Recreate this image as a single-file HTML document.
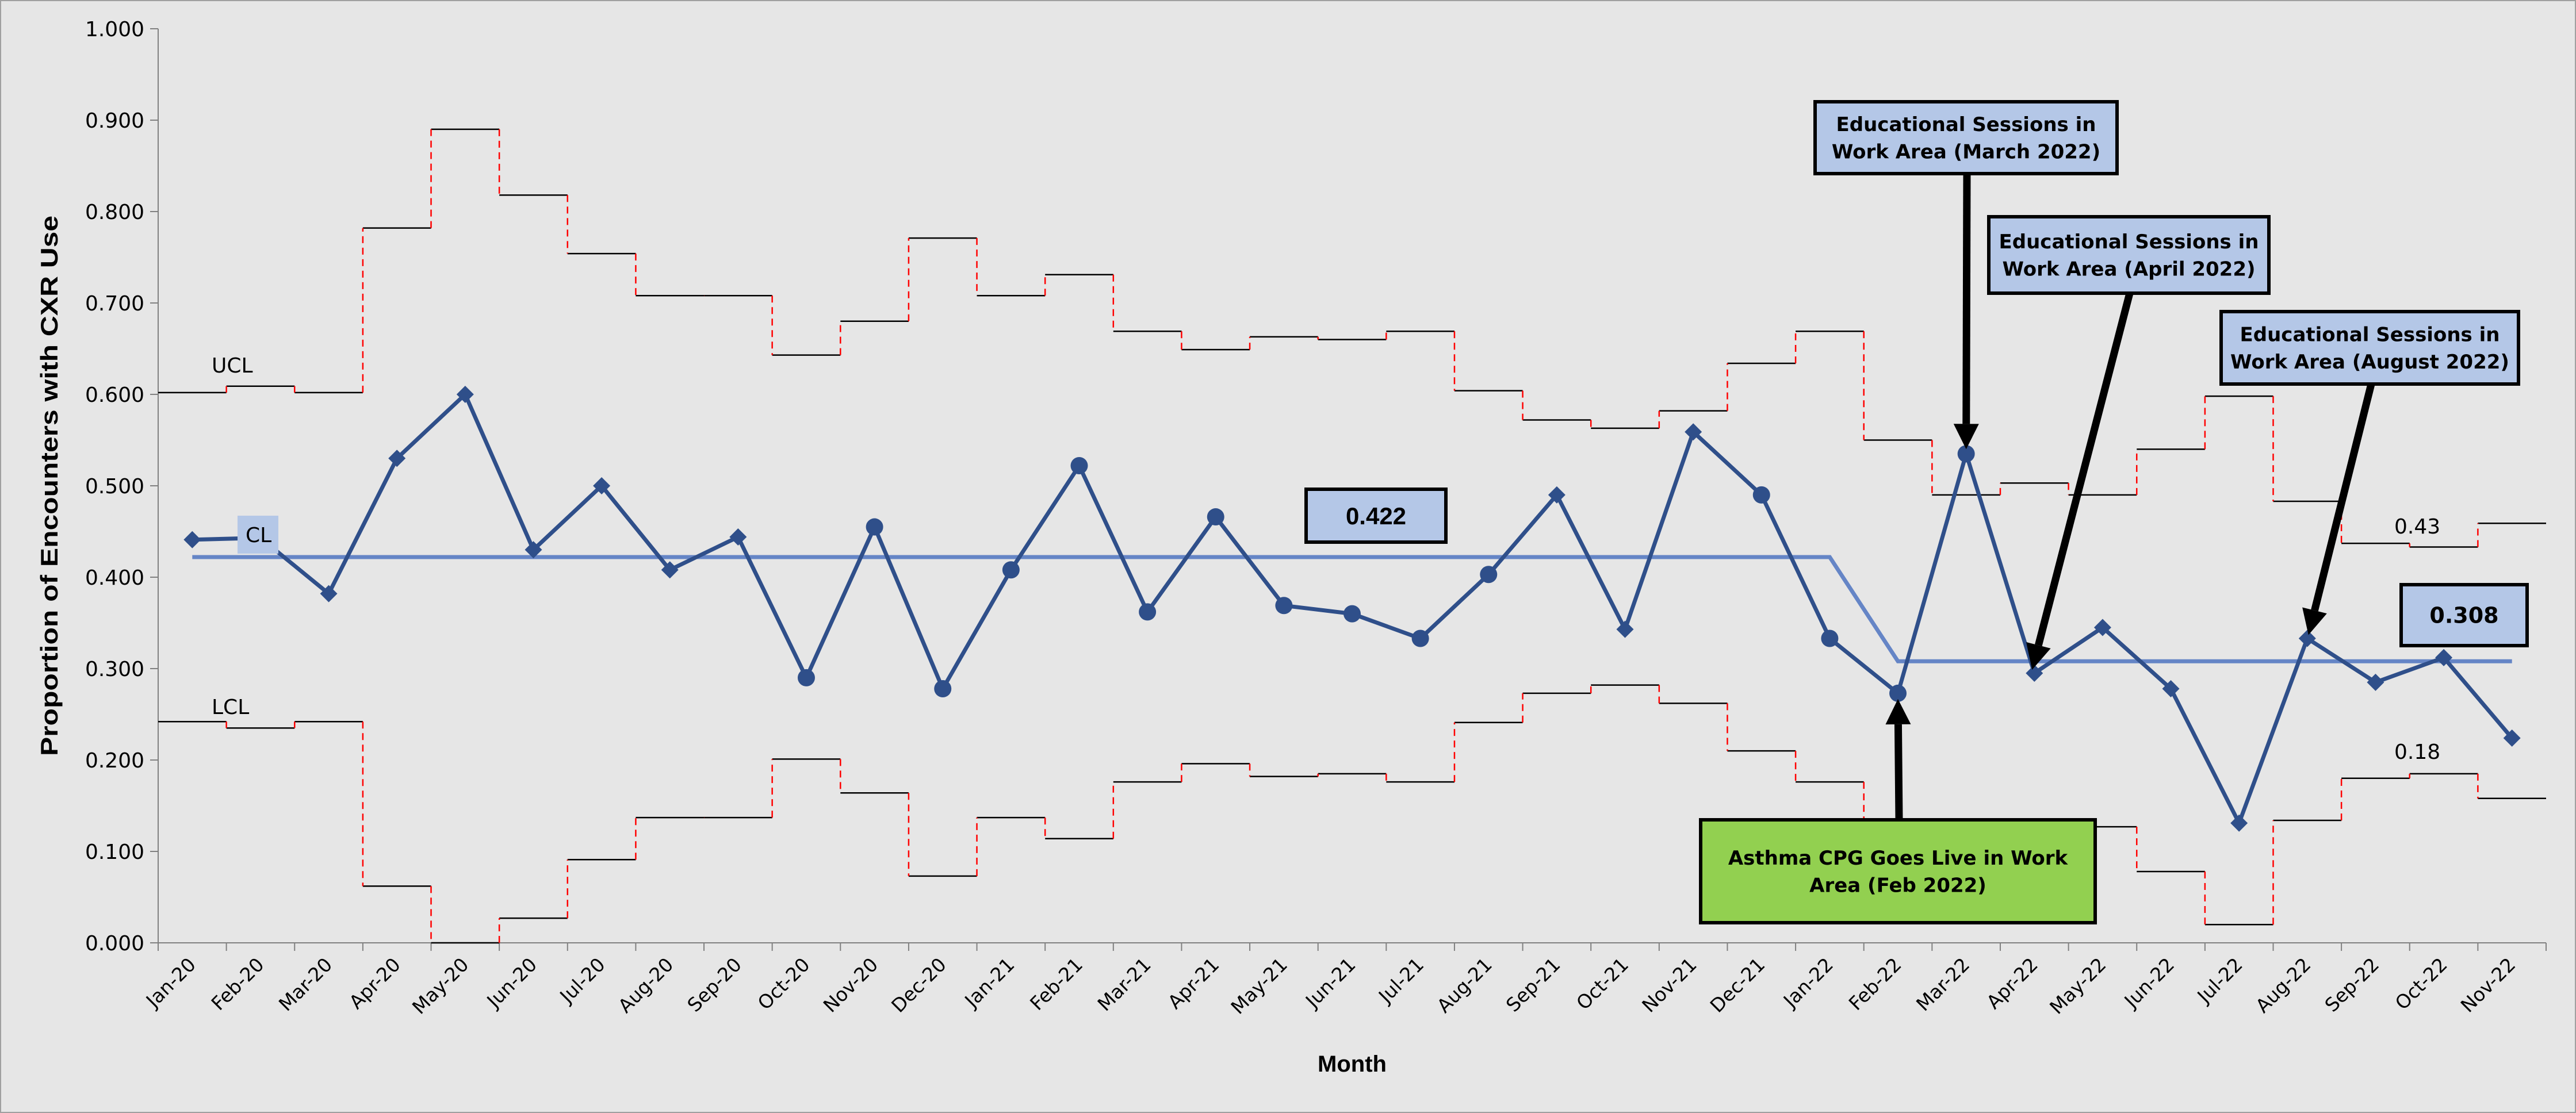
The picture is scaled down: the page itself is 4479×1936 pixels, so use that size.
<!DOCTYPE html>
<html><head><meta charset="utf-8"><style>
html,body{margin:0;padding:0;background:#e6e6e6}
svg{display:block}
</style></head><body>
<svg id="chart" width="4479" height="1936" viewBox="0 0 4479 1936" xmlns="http://www.w3.org/2000/svg">
<rect x="1" y="1" width="4477" height="1934" fill="#e6e6e6" stroke="#a0a0a0" stroke-width="2"/>
<g id="grid"></g>
<g id="limits"></g>
<g id="series"></g>
<g id="annot"></g>
</svg>
<script>
const months = ["Jan-20","Feb-20","Mar-20","Apr-20","May-20","Jun-20","Jul-20","Aug-20","Sep-20","Oct-20","Nov-20","Dec-20","Jan-21","Feb-21","Mar-21","Apr-21","May-21","Jun-21","Jul-21","Aug-21","Sep-21","Oct-21","Nov-21","Dec-21","Jan-22","Feb-22","Mar-22","Apr-22","May-22","Jun-22","Jul-22","Aug-22","Sep-22","Oct-22","Nov-22"];
const proportion = [0.441,0.443,0.382,0.530,0.600,0.430,0.500,0.408,0.444,0.290,0.455,0.278,0.408,0.522,0.362,0.466,0.369,0.360,0.333,0.403,0.490,0.343,0.559,0.490,0.333,0.273,0.535,0.295,0.345,0.278,0.131,0.333,0.285,0.312,0.224];
const markerType = ["d","d","d","d","d","d","d","d","d","c","c","c","c","c","c","c","c","c","c","c","d","d","d","c","c","c","c","d","d","d","d","d","d","d","d"];
const ucl = [0.602,0.609,0.602,0.782,0.890,0.818,0.754,0.708,0.708,0.643,0.680,0.771,0.708,0.731,0.669,0.649,0.663,0.660,0.669,0.604,0.572,0.563,0.582,0.634,0.669,0.550,0.490,0.503,0.490,0.540,0.598,0.483,0.437,0.433,0.459];
const lcl = [0.242,0.235,0.242,0.062,0.000,0.027,0.091,0.137,0.137,0.201,0.164,0.073,0.137,0.114,0.176,0.196,0.182,0.185,0.176,0.241,0.273,0.282,0.262,0.210,0.176,0.135,0.120,0.128,0.127,0.078,0.020,0.134,0.180,0.185,0.158];
const centerLine = [0.422,0.422,0.422,0.422,0.422,0.422,0.422,0.422,0.422,0.422,0.422,0.422,0.422,0.422,0.422,0.422,0.422,0.422,0.422,0.422,0.422,0.422,0.422,0.422,0.422,0.308,0.308,0.308,0.308,0.308,0.308,0.308,0.308,0.308,0.308];
const yTicks = [0,0.1,0.2,0.3,0.4,0.5,0.6,0.7,0.8,0.9,1.0];

const NS="http://www.w3.org/2000/svg";
const X0=275, X1=4427, Y0=1640, Y1=50;
const bw=(X1-X0)/months.length;
const xl=i=>X0+i*bw;
const xc=i=>X0+(i+0.5)*bw;
const y=v=>Y0-(v)*(Y0-Y1);
function mk(tag,attrs,parent,text){const e=document.createElementNS(NS,tag);for(const k in attrs)e.setAttribute(k,attrs[k]);if(text!==undefined)e.textContent=text;parent.appendChild(e);return e;}
const grid=document.getElementById('grid'),lim=document.getElementById('limits'),ser=document.getElementById('series'),an=document.getElementById('annot');

let ax=mk('line',{x1:X0,y1:Y1,x2:X0,y2:Y0,stroke:'#808080','stroke-width':2},grid);


let axx=mk('line',{x1:X0,y1:Y0,x2:X1,y2:Y0,stroke:'#808080','stroke-width':2},grid);


yTicks.forEach(v=>{
  mk('line',{x1:X0-14,y1:y(v),x2:X0,y2:y(v),stroke:'#808080','stroke-width':2},grid);
  const t=mk('text',{x:X0-24,y:y(v)+13,'text-anchor':'end','font-family':'DejaVu Sans, Verdana, sans-serif','font-size':36,fill:'#000'},grid,v.toFixed(3));
  
  
});
for(let i=0;i<=months.length;i++){mk('line',{x1:xl(i),y1:Y0,x2:xl(i),y2:Y0+14,stroke:'#808080','stroke-width':2},grid);}
months.forEach((m,i)=>{
  const cx=xc(i)+8, cy=Y0+40;
  const t=mk('text',{x:cx,y:cy,'text-anchor':'end','font-family':'DejaVu Sans, Verdana, sans-serif','font-size':33,fill:'#000',transform:`rotate(-45 ${cx} ${cy})`},grid,m);
  
  
});
let yt=mk('text',{x:0,y:0,'text-anchor':'middle','font-family':'Liberation Sans Narrow, Liberation Sans, sans-serif','font-weight':'bold','font-size':42,fill:'#000',textLength:940,lengthAdjust:'spacingAndGlyphs',transform:`translate(100 ${(Y0+Y1)/2}) rotate(-90)`},grid,'Proportion of Encounters with CXR Use');


let xt=mk('text',{x:2351,y:1864,'text-anchor':'middle','font-family':'Liberation Sans, sans-serif','font-weight':'bold','font-size':40,fill:'#000'},grid,'Month');



function steps(arr,name){
  arr.forEach((v,i)=>{
    const h=mk('line',{x1:xl(i),y1:y(v),x2:xl(i+1),y2:y(v),stroke:'#000','stroke-width':2.5},lim);
    
    
    if(i>0){const d=mk('line',{x1:xl(i),y1:y(arr[i-1]),x2:xl(i),y2:y(v),stroke:'#ff0000','stroke-width':2.5,'stroke-dasharray':'12 8'},lim);
      
      }
  });
}
steps(ucl,'ucl');steps(lcl,'lcl');

let cpts=centerLine.map((v,i)=>`${xc(i)},${y(v)}`).join(' ');
let cl=mk('polyline',{points:cpts,fill:'none',stroke:'#6585c6','stroke-width':7},ser);



let dpts=proportion.map((v,i)=>`${xc(i)},${y(v)}`).join(' ');
let dl=mk('polyline',{points:dpts,fill:'none',stroke:'#2f4f8a','stroke-width':7,'stroke-linejoin':'round'},ser);


proportion.forEach((v,i)=>{
  const cx=xc(i),cy=y(v);let p;
  if(markerType[i]==='c'){p=mk('ellipse',{cx:cx,cy:cy,rx:15,ry:15,fill:'#2f4f8a'},ser);}
  else{p=mk('polygon',{points:`${cx},${cy-15} ${cx+15},${cy} ${cx},${cy+15} ${cx-15},${cy}`,fill:'#2f4f8a'},ser);}
  
  
});

function txt(x,yy,s,name,size,extra){const t=mk('text',Object.assign({x:x,y:yy,'font-family':'DejaVu Sans, Verdana, sans-serif','font-size':size||34,fill:'#000'},extra||{}),an,s);return t;}
txt(368,648,'UCL','ucl-label',36);
txt(368,1242,'LCL','lcl-label',36);
let clb=mk('rect',{x:413,y:897,width:71,height:66,fill:'#b4c7e7'},an);


txt(427,943,'CL','cl-label',36);
txt(4163,928,'0.43','ucl-value-label',36);
txt(4163,1320,'0.18','lcl-value-label',36);
function box(x,yy,w,h,fill,lines,name,font,size,bold){
  const g=mk('g',{},an);
  mk('rect',{x:x,y:yy,width:w,height:h,fill:fill,stroke:'#000','stroke-width':6},g);
  const lh=size*1.4, start=yy+h/2-(lines.length-1)*lh/2+size*0.36;
  lines.forEach((l,k)=>{mk('text',{x:x+w/2,y:start+k*lh,'text-anchor':'middle','font-family':font,'font-weight':bold?'bold':'normal','font-size':size,fill:'#000'},g,l);});
  return g;
}
function arrow(x1,y1,x2,y2,name){
  const g=mk('g',{},an);
  const dx=x2-x1,dy=y2-y1,L=Math.hypot(dx,dy),ux=dx/L,uy=dy/L,hl=44,hw=22;
  const bx=x2-ux*hl,by=y2-uy*hl;
  mk('line',{x1:x1,y1:y1,x2:bx,y2:by,stroke:'#000','stroke-width':13},g);
  mk('polygon',{points:`${x2},${y2} ${bx-uy*hw},${by+ux*hw} ${bx+uy*hw},${by-ux*hw}`,fill:'#000'},g);
}
const F='DejaVu Sans, Verdana, sans-serif';
arrow(3420,302,xc(26),y(proportion[26])-8,'march-arrow');
arrow(3703,510,xc(27)-4,y(proportion[27])-6,'april-arrow');
arrow(4123,668,xc(31)+2,y(proportion[31])-6,'august-arrow');
arrow(3302,1426,xc(25),y(proportion[25])+10,'go-live-arrow');
box(3156,177,525,125,'#b4c7e7',['Educational Sessions in','Work Area (March 2022)'],'march-sessions-annotation',F,34,true);
box(3458,377,487,133,'#b4c7e7',['Educational Sessions in','Work Area (April 2022)'],'april-sessions-annotation',F,34,true);
box(3862,542,517,126,'#b4c7e7',['Educational Sessions in','Work Area (August 2022)'],'august-sessions-annotation',F,34,true);
box(4175,1017,219,106,'#b4c7e7',['0.308'],'cl-after-value-box',F,38,true);
box(2271,851,243,92,'#b4c7e7',['0.422'],'cl-before-value-box','Liberation Sans Narrow, Liberation Sans, sans-serif',42,true);
box(2957,1426,686,179,'#92d050',['Asthma CPG Goes Live in Work','Area (Feb 2022)'],'go-live-annotation',F,34,true);
</script>
</body></html>
